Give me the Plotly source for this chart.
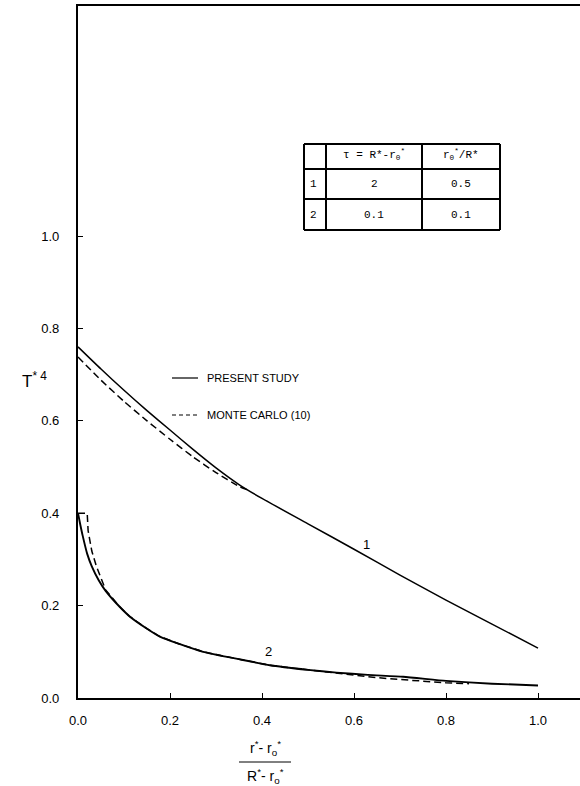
import plotly.graph_objects as go

# ---- data -------------------------------------------------------------
# Curve 1 (tau = 2, r0*/R* = 0.5)
x_c1 = [0.0, 0.05, 0.10, 0.15, 0.20, 0.25, 0.30, 0.35, 0.40, 0.50, 0.60, 0.70, 0.80, 0.90, 1.00]
present_c1 = [0.760, 0.712, 0.666, 0.622, 0.580, 0.538, 0.498, 0.462, 0.432, 0.377, 0.322, 0.266, 0.212, 0.160, 0.108]
x_mc1 = [0.0, 0.05, 0.10, 0.15, 0.20, 0.25, 0.30, 0.35, 0.37]
monte_carlo_c1 = [0.738, 0.688, 0.642, 0.600, 0.560, 0.522, 0.488, 0.458, 0.450]

# Curve 2 (tau = 0.1, r0*/R* = 0.1)
x_c2 = [0.0, 0.005, 0.01, 0.02, 0.03, 0.045, 0.06, 0.09, 0.113, 0.15, 0.178, 0.22, 0.272, 0.35, 0.417, 0.50, 0.562, 0.63, 0.707, 0.80, 0.90, 1.00]
present_c2 = [0.400, 0.375, 0.352, 0.312, 0.285, 0.255, 0.232, 0.198, 0.176, 0.150, 0.133, 0.117, 0.100, 0.084, 0.071, 0.061, 0.055, 0.050, 0.046, 0.037, 0.031, 0.027]
x_mc2 = [0.0, 0.02, 0.022, 0.03, 0.04, 0.05, 0.06, 0.09, 0.113, 0.15, 0.178, 0.22, 0.272, 0.35, 0.417, 0.50, 0.55, 0.60, 0.65, 0.70, 0.75, 0.80, 0.85]
monte_carlo_c2 = [0.400, 0.400, 0.362, 0.318, 0.285, 0.258, 0.234, 0.198, 0.176, 0.150, 0.133, 0.117, 0.100, 0.084, 0.071, 0.061, 0.055, 0.049, 0.044, 0.040, 0.036, 0.033, 0.031]

# Curve number labels
curve_ids = ["1", "2"]
curve_label_x = [0.627, 0.415]
curve_label_y = [0.333, 0.100]

# Parameter table
table_header = ["", "τ = R*-r<sub>0</sub><sup>*</sup>", "r<sub>0</sub><sup>*</sup>/R*"]
tau_values = ["2", "0.1"]
ratio_values = ["0.5", "0.1"]

# Axis ticks
tick_vals = [0.0, 0.2, 0.4, 0.6, 0.8, 1.0]
tick_text = ["0.0", "0.2", "0.4", "0.6", "0.8", "1.0"]

legend_labels = ["PRESENT STUDY", "MONTE CARLO (10)"]

# ---- layout geometry (pixels in the 580x786 page) ---------------------
W, H = 580, 786
ML, MB, MT, MR = 78, 88, 6, 0
PW, PH = W - ML - MR, H - MT - MB


def px(x):
    return (x - ML) / PW


def py(y):
    return (H - MB - y) / PH


FONT = "Liberation Sans, Arial, sans-serif"
MONO = "Liberation Mono, Courier New, monospace"

fig = go.Figure()
fig.add_trace(go.Scatter(x=x_c1, y=present_c1, mode="lines", line=dict(color="black", width=1.5, shape="spline", smoothing=0.6)))
fig.add_trace(go.Scatter(x=x_mc1, y=monte_carlo_c1, mode="lines", line=dict(color="black", width=1.5, dash="7px,4px", shape="spline", smoothing=0.6)))
fig.add_trace(go.Scatter(x=x_c2, y=present_c2, mode="lines", line=dict(color="black", width=1.9, shape="spline", smoothing=0.5)))
fig.add_trace(go.Scatter(x=x_mc2, y=monte_carlo_c2, mode="lines", line=dict(color="black", width=1.5, dash="7px,4px")))

annotations = []
shapes = []

# curve numbers
for cid, lx, ly in zip(curve_ids, curve_label_x, curve_label_y):
    annotations.append(dict(x=lx, y=ly, xref="x", yref="y", text=cid, showarrow=False,
                            font=dict(family=FONT, size=13, color="black")))

# legend
leg_y = [378, 415]
leg_dash = ["solid", "4px,3px"]
for lab, ly, dsh in zip(legend_labels, leg_y, leg_dash):
    shapes.append(dict(type="line", xref="paper", yref="paper", x0=px(172), x1=px(198), y0=py(ly), y1=py(ly),
                       line=dict(color="black", width=1.2, dash=dsh)))
    annotations.append(dict(x=px(205), y=py(ly), xref="paper", yref="paper", text=lab, showarrow=False,
                            xanchor="left", yanchor="middle", font=dict(family=FONT, size=11, color="black")))

# table grid
col_x = [304, 326, 422, 500]
row_y = [144, 169, 199, 230]
for cx in col_x:
    shapes.append(dict(type="line", xref="paper", yref="paper", x0=px(cx), x1=px(cx), y0=py(row_y[0]), y1=py(row_y[-1]),
                       line=dict(color="black", width=2)))
for ry in row_y:
    shapes.append(dict(type="line", xref="paper", yref="paper", x0=px(col_x[0]), x1=px(col_x[-1]), y0=py(ry), y1=py(ry),
                       line=dict(color="black", width=2)))

table_rows = [table_header] + [[cid, t, r] for cid, t, r in zip(curve_ids, tau_values, ratio_values)]
for ri, row in enumerate(table_rows):
    cy = (row_y[ri] + row_y[ri + 1]) / 2
    for ci, txt in enumerate(row):
        if not txt:
            continue
        if ci == 0:
            cx, xa = col_x[0] + 4, "left"
        else:
            cx, xa = (col_x[ci] + col_x[ci + 1]) / 2, "center"
        annotations.append(dict(x=px(cx), y=py(cy - (2 if ri == 0 else 0)), xref="paper", yref="paper", text=txt,
                                showarrow=False, xanchor=xa, yanchor="middle",
                                font=dict(family=MONO, size=11, color="black")))

# y-axis title
annotations.append(dict(x=px(20), y=py(380), xref="paper", yref="paper", text="T<sup>* 4</sup>",
                        showarrow=False, font=dict(family=FONT, size=17, color="black")))

# x-axis title as a fraction
annotations.append(dict(x=px(265), y=py(760), xref="paper", yref="paper", text="r<sup>*</sup>- r<sub>o</sub><sup>*</sup>",
                        showarrow=False, yanchor="bottom", font=dict(family=FONT, size=14, color="black")))
shapes.append(dict(type="line", xref="paper", yref="paper", x0=px(239), x1=px(291), y0=py(762), y1=py(762),
                   line=dict(color="black", width=1)))
annotations.append(dict(x=px(265), y=py(764), xref="paper", yref="paper", text="R<sup>*</sup>- r<sub>o</sub><sup>*</sup>",
                        showarrow=False, yanchor="top", font=dict(family=FONT, size=14, color="black")))

fig.update_layout(
    width=W, height=H,
    margin=dict(l=ML, r=MR, t=MT, b=MB, pad=0),
    paper_bgcolor="white", plot_bgcolor="white",
    showlegend=False,
    annotations=annotations,
    shapes=shapes,
    xaxis=dict(range=[0, PW / 460], tickvals=tick_vals, ticktext=tick_text, ticks="inside", ticklen=5,
               tickwidth=1.2, tickcolor="black", showline=True, linecolor="black", linewidth=2.2, mirror=True,
               showgrid=False, zeroline=False, ticklabelstandoff=9,
               tickfont=dict(family=FONT, size=13, color="black")),
    yaxis=dict(range=[0, PH / 462], tickvals=tick_vals, ticktext=tick_text, ticks="inside", ticklen=5,
               tickwidth=1.2, tickcolor="black", showline=True, linecolor="black", linewidth=2.2, mirror=False,
               showgrid=False, zeroline=False, ticklabelstandoff=14,
               tickfont=dict(family=FONT, size=13, color="black")),
)

fig.write_html("out.html")
